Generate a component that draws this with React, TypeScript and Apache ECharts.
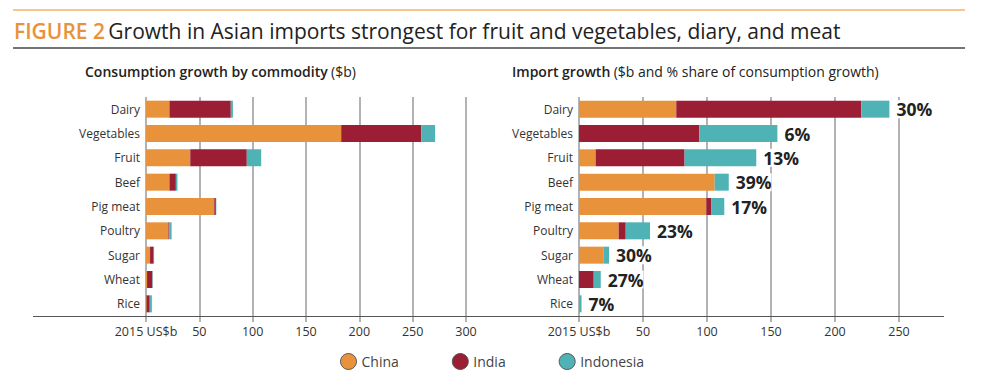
import React, { useEffect, useRef } from "react";
import * as echarts from "echarts";

const categories = ["Dairy", "Vegetables", "Fruit", "Beef", "Pig meat", "Poultry", "Sugar", "Wheat", "Rice"];
const consChina = [22, 183, 41.5, 22, 64, 21, 3.8, 1, 0.5];
const consIndia = [57.5, 75, 53, 6, 1.5, 1, 3.4, 5, 3];
const consIndonesia = [2, 13, 13.5, 1.5, 0.4, 2, 0.4, 0.4, 2];
const impChina = [76, 0, 13, 106, 99.5, 31, 19, 0, 0];
const impIndia = [144.5, 94, 69.5, 0, 4, 5.5, 0, 11.5, 0];
const impIndonesia = [22, 61, 56, 11, 10, 19, 4.5, 5.5, 2];
const shareLabels = ["30%", "6%", "13%", "39%", "17%", "23%", "30%", "27%", "7%"];
const countries = ["China", "India", "Indonesia"];
const colors = ["#E8923C", "#9B1E35", "#4FB3B5"];

const FONT = "'Open Sans', sans-serif";

export default function App() {
  const ref = useRef<HTMLDivElement>(null);
  useEffect(() => {
    if (!ref.current) return;
    const chart = echarts.init(ref.current, undefined, { renderer: "svg" });
    const xAxisBase = (max: number, gridIndex: number) => ({
      type: "value",
      gridIndex,
      min: 0,
      max,
      interval: 50,
      axisLine: { show: false },
      axisTick: { show: true, length: 6, lineStyle: { color: "#9a9a9a", width: 1.5 } },
      splitLine: { show: true, lineStyle: { color: "#9a9a9a", width: 1.5 } },
      axisLabel: {
        margin: 9,
        fontFamily: FONT,
        fontSize: 12.5,
        color: "#333",
        formatter: (v: number) => (v === 0 ? "2015 US$b" : String(v)),
      },
    });
    const yAxisBase = (gridIndex: number) => ({
      type: "category",
      gridIndex,
      data: categories,
      inverse: true,
      axisLine: { show: false },
      axisTick: { show: false },
      axisLabel: { margin: 6, fontFamily: FONT, fontSize: 12, color: "#333" },
    });
    const consData = [consChina, consIndia, consIndonesia];
    const impData = [impChina, impIndia, impIndonesia];
    const series: any[] = [];
    countries.forEach((c, i) => {
      series.push({
        type: "bar",
        name: c,
        xAxisIndex: 0,
        yAxisIndex: 0,
        stack: "cons",
        barWidth: 17,
        data: consData[i],
        itemStyle: { color: colors[i] },
      });
    });
    countries.forEach((c, i) => {
      series.push({
        type: "bar",
        name: c,
        xAxisIndex: 1,
        yAxisIndex: 1,
        stack: "imp",
        barWidth: 17,
        data: impData[i],
        itemStyle: { color: colors[i] },
        label:
          i === 2
            ? {
                show: true,
                position: "right",
                distance: 7,
                fontFamily: FONT,
                fontWeight: "bold",
                fontSize: 17.5,
                color: "#222",
                backgroundColor: "#fff",
                formatter: (p: any) => shareLabels[p.dataIndex],
              }
            : { show: false },
      });
    });
    chart.setOption({
      animation: false,
      textStyle: { fontFamily: FONT },
      grid: [
        { left: 146, top: 97, width: 320, height: 219, containLabel: false },
        { left: 579, top: 97, width: 320, height: 219, containLabel: false },
      ],
      xAxis: [xAxisBase(300, 0), xAxisBase(250, 1)],
      yAxis: [yAxisBase(0), yAxisBase(1)],
      legend: {
        data: countries,
        left: 335,
        top: 348,
        icon: "circle",
        itemWidth: 16,
        itemHeight: 16,
        itemGap: 53,
        itemStyle: { borderColor: "#555", borderWidth: 1 },
        textStyle: { fontFamily: FONT, fontSize: 14, color: "#444" },
      },
      graphic: [
        { type: "line", shape: { x1: 13, y1: 10, x2: 965, y2: 10 }, style: { stroke: "#F5B26B", lineWidth: 1.5 } },
        { type: "line", shape: { x1: 13, y1: 48, x2: 965, y2: 48 }, style: { stroke: "#444", lineWidth: 1.5 } },
        {
          type: "text",
          x: 14,
          y: 31,
          style: {
            text: "{o|FIGURE 2} {d|Growth in Asian imports strongest for fruit and vegetables, diary, and meat}",
            verticalAlign: "middle",
            rich: {
              o: { fontFamily: FONT, fontSize: 21, fontWeight: 600, fill: "#E8923C" },
              d: { fontFamily: FONT, fontSize: 21, fill: "#222" },
            },
          },
        },
        {
          type: "text",
          x: 85,
          y: 71,
          style: {
            text: "{b|Consumption growth by commodity} {r|($b)}",
            verticalAlign: "middle",
            rich: {
              b: { fontFamily: FONT, fontSize: 14, fontWeight: 600, fill: "#222" },
              r: { fontFamily: FONT, fontSize: 14, fill: "#222" },
            },
          },
        },
        {
          type: "text",
          x: 512,
          y: 71,
          style: {
            text: "{b|Import growth} {r|($b and % share of consumption growth)}",
            verticalAlign: "middle",
            rich: {
              b: { fontFamily: FONT, fontSize: 14, fontWeight: 600, fill: "#222" },
              r: { fontFamily: FONT, fontSize: 14, fill: "#222" },
            },
          },
        },
        { type: "line", z: 10, shape: { x1: 33, y1: 316.5, x2: 944, y2: 316.5 }, style: { stroke: "#555", lineWidth: 1.2 } },
      ],
      series,
    });
    return () => chart.dispose();
  }, []);
  return <div ref={ref} style={{ width: 1000, height: 382, position: "absolute", left: 0, top: 0 }} />;
}
